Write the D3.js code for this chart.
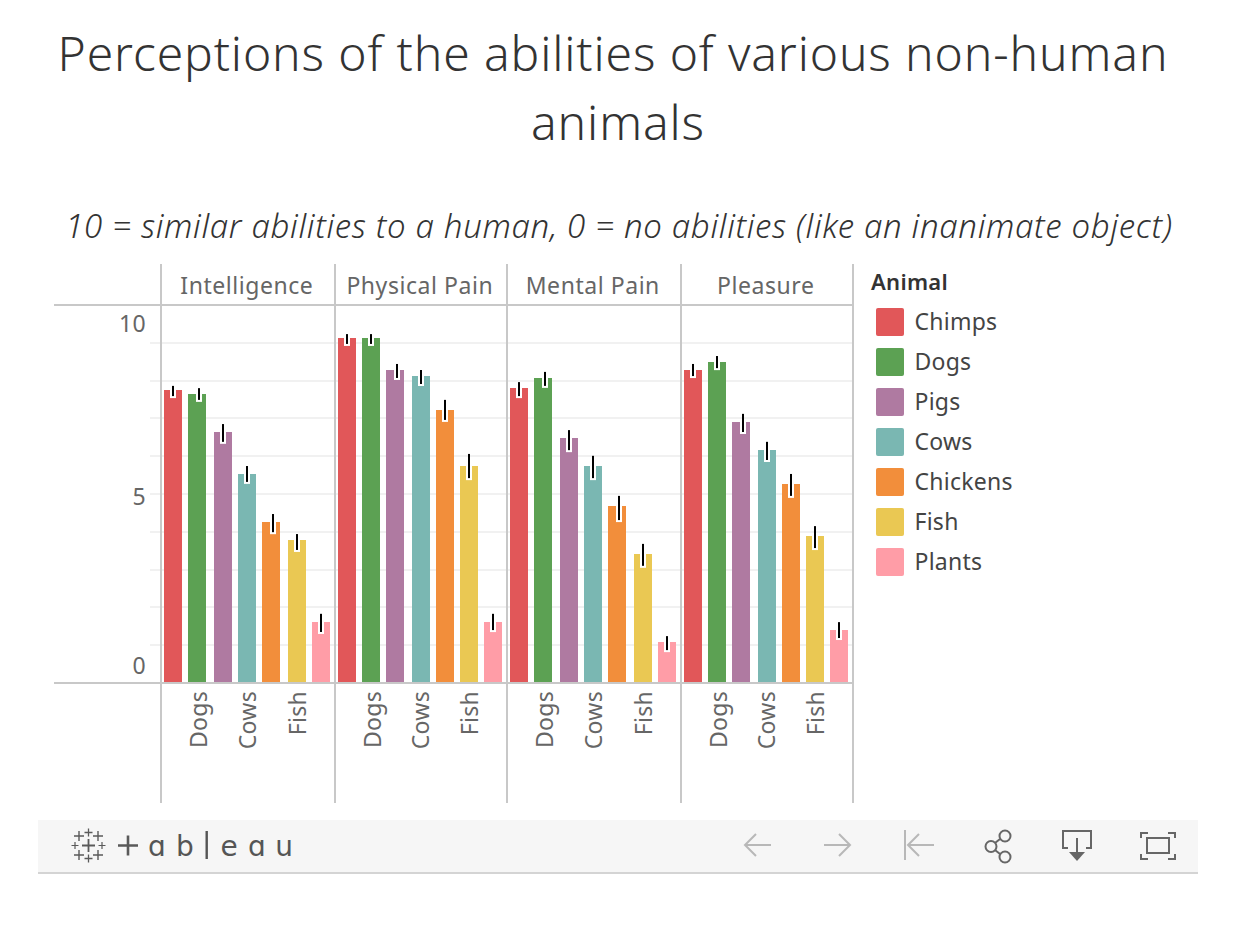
<!DOCTYPE html>
<html>
<head>
<meta charset="utf-8">
<script src="https://cdn.jsdelivr.net/npm/d3@7"></script>
<style>
  body { margin: 0; background: #fff; }
  text { font-family: "Noto Sans", sans-serif; }
  .title { font-weight: 300; font-size: 48px; fill: #333; letter-spacing: 0.87px; }
  .subtitle { font-weight: 300; font-style: italic; font-size: 33px; fill: #333; letter-spacing: 0.66px; }
  .header { font-size: 23px; fill: #666; letter-spacing: 0.55px; }
  .tick text { font-size: 23px; fill: #666; font-family: "Noto Sans", sans-serif; letter-spacing: 0.3px; }
  .legend-title { font-size: 22px; font-weight: 600; fill: #333; letter-spacing: 0.3px; }
  .legend-label { font-size: 23px; fill: #444; letter-spacing: 0.25px; }
</style>
</head>
<body>
<div id="chart"></div>
<script>
var animals = ["Chimps","Dogs","Pigs","Cows","Chickens","Fish","Plants"];
var animalColors = ["#e15759","#5ca153","#af7aa1","#7ab7b2","#f28e3b","#eac853","#ff9da7"];
var abilities = ["Intelligence","Physical Pain","Mental Pain","Pleasure"];
var labelledAnimals = ["Dogs","Cows","Fish"];
var yTicks = [0,5,10];
var gridValues = [1,2,3,4,5,6,7,8,9];

var intelligence = [7.75,7.65,6.64,5.53,4.26,3.78,1.61];
var intelligenceLow = [7.59,7.49,6.38,5.32,3.99,3.52,1.35];
var intelligenceHigh = [7.86,7.80,6.85,5.74,4.47,3.94,1.83];

var physicalPain = [9.13,9.13,8.28,8.12,7.22,5.74,1.61];
var physicalPainLow = [8.97,8.97,8.07,7.91,6.96,5.42,1.40];
var physicalPainHigh = [9.23,9.23,8.44,8.28,7.49,6.06,1.83];

var mentalPain = [7.80,8.07,6.48,5.74,4.68,3.41,1.08];
var mentalPainLow = [7.59,7.86,6.16,5.42,4.31,3.10,0.87];
var mentalPainHigh = [7.96,8.23,6.69,6.01,4.95,3.68,1.24];

var pleasure = [8.28,8.49,6.90,6.16,5.26,3.89,1.40];
var pleasureLow = [8.12,8.33,6.64,5.90,4.95,3.57,1.19];
var pleasureHigh = [8.44,8.65,7.12,6.38,5.53,4.15,1.61];

var means = [intelligence,physicalPain,mentalPain,pleasure];
var lows = [intelligenceLow,physicalPainLow,mentalPainLow,pleasureLow];
var highs = [intelligenceHigh,physicalPainHigh,mentalPainHigh,pleasureHigh];

var width = 1250, height = 932;
var svg = d3.select("#chart").append("svg")
    .attr("width", width)
    .attr("height", height)
    .style("display", "block");

// titles
svg.append("text").attr("class","title").attr("x",613).attr("y",71).attr("text-anchor","middle")
    .text("Perceptions of the abilities of various non-human");
svg.append("text").attr("class","title").attr("x",618).attr("y",140).attr("text-anchor","middle")
    .text("animals");
svg.append("text").attr("class","subtitle").attr("x",619).attr("y",238).attr("text-anchor","middle")
    .text("10 = similar abilities to a human, 0 = no abilities (like an inanimate object)");

// scales
var y = d3.scaleLinear().domain([0,10]).range([683,305]);
var panel = d3.scaleBand().domain(abilities).range([161,853]);
var color = d3.scaleOrdinal().domain(animals).range(animalColors);
var ruleColor = "#c8c8c8";

// tableau draws on a 2px grid, panel rules land on odd pixels
var snapOdd = function(v) { return Math.floor(v/2)*2 + 1; };
var snapEven = function(v) { return Math.floor(v/2)*2; };

// gridlines
svg.append("g").selectAll("rect")
    .data(gridValues)
    .enter().append("rect")
    .attr("x", 150)
    .attr("y", function(d) { return Math.round(y(d)) - 1; })
    .attr("width", 703)
    .attr("height", 2)
    .attr("fill", "#f1f1f1");

// y axis
var yAxis = svg.append("g")
    .attr("transform", "translate(146,0)")
    .call(d3.axisLeft(y).tickValues(yTicks).tickSize(0).tickPadding(0));
yAxis.select(".domain").remove();
yAxis.selectAll("text").attr("dy", function(d) {
  if (d == 10) return 18 + 8;
  if (d == 0) return -18 + 8;
  return 2 + 8;
});

abilities.forEach(function(ability, p) {
  var x0 = snapOdd(panel(ability));
  var x1 = snapOdd(panel(ability) + panel.bandwidth());
  var x = d3.scaleBand().domain(animals).range([x0 + 0.7, x1 - 0.7]);

  var rows = animals.map(function(a, i) {
    return {animal: a, mean: means[p][i], low: lows[p][i], high: highs[p][i]};
  });

  var g = svg.append("g").attr("class", "panel");

  g.selectAll(".bar")
      .data(rows)
      .enter().append("rect")
      .attr("class", "bar")
      .attr("x", function(d) { return snapEven(x(d.animal) + x.bandwidth()/2 - 9); })
      .attr("y", function(d) { return snapEven(y(d.mean) + 1); })
      .attr("width", 18)
      .attr("height", function(d) { return 682 - snapEven(y(d.mean) + 1); })
      .attr("fill", function(d) { return color(d.animal); });

  // error bars, white halo under a black line
  g.selectAll(".halo")
      .data(rows)
      .enter().append("rect")
      .attr("class", "halo")
      .attr("x", function(d) { return snapOdd(x(d.animal) + x.bandwidth()/2 - 0.5) - 3; })
      .attr("y", function(d) { return snapEven(y(d.mean) + 1); })
      .attr("width", 6)
      .attr("height", function(d) { return y(d.low) + 2 - snapEven(y(d.mean) + 1); })
      .attr("fill", "#fff");

  g.selectAll(".err")
      .data(rows)
      .enter().append("rect")
      .attr("class", "err")
      .attr("x", function(d) { return snapOdd(x(d.animal) + x.bandwidth()/2 - 0.5) - 1; })
      .attr("y", function(d) { return y(d.high); })
      .attr("width", 2)
      .attr("height", function(d) { return y(d.low) - y(d.high); })
      .attr("fill", "#000");

  // header
  g.append("text")
      .attr("class", "header")
      .attr("x", (x0 + x1)/2 - 1.2)
      .attr("y", 294)
      .attr("text-anchor", "middle")
      .text(ability);

  // x axis
  var xAxis = g.append("g")
      .attr("transform", "translate(0,683)")
      .call(d3.axisBottom(x).tickValues(labelledAnimals).tickSize(0).tickPadding(0));
  xAxis.select(".domain").remove();
  xAxis.selectAll("text")
      .attr("transform", "rotate(-90)")
      .attr("text-anchor", "end")
      .attr("x", -8)
      .attr("y", 0)
      .attr("dy", "0.36em");
});

// frame rules
var rules = svg.append("g");
panel.domain().forEach(function(ability) {
  rules.append("rect").attr("x", snapOdd(panel(ability)) - 1).attr("y", 264).attr("width", 2).attr("height", 539).attr("fill", ruleColor);
});
rules.append("rect").attr("x", 852).attr("y", 264).attr("width", 2).attr("height", 539).attr("fill", ruleColor);
rules.append("rect").attr("x", 54).attr("y", 304).attr("width", 800).attr("height", 2).attr("fill", ruleColor);
rules.append("rect").attr("x", 54).attr("y", 682).attr("width", 800).attr("height", 2).attr("fill", ruleColor);

// legend
var legendY = d3.scalePoint().domain(animals).range([322,562]);
svg.append("text").attr("class","legend-title").attr("x",871).attr("y",290).text("Animal");
var legend = svg.append("g").selectAll("g")
    .data(animals)
    .enter().append("g")
    .attr("transform", function(d) { return "translate(0," + legendY(d) + ")"; });
legend.append("rect")
    .attr("x", 876).attr("y", -14).attr("width", 28).attr("height", 28).attr("rx", 2)
    .attr("fill", function(d) { return color(d); });
legend.append("text")
    .attr("class", "legend-label")
    .attr("x", 914.5).attr("y", 8)
    .text(function(d) { return d; });

// toolbar
var bar = svg.append("g");
bar.append("rect").attr("x",38).attr("y",820).attr("width",1160).attr("height",52).attr("fill","#f6f6f6");
bar.append("rect").attr("x",38).attr("y",872).attr("width",1160).attr("height",2).attr("fill","#d4d4d4");

var plus = function(cx, cy, r, w) {
  bar.append("path")
      .attr("d", "M" + (cx-r) + " " + cy + "H" + (cx+r) + "M" + cx + " " + (cy-r) + "V" + (cy+r))
      .attr("stroke", "#5a5a5a").attr("stroke-width", w).attr("fill", "none");
};
plus(88.5,845.5,6.5,1.8);
plus(88.5,832.5,4,1.3); plus(88.5,858.5,4,1.3);
plus(75,845.5,3.5,1.2); plus(102,845.5,3.5,1.2);
plus(79,836,5,1.4); plus(98,836,5,1.4); plus(79,855,5,1.4); plus(98,855,5,1.4);
plus(128,845.5,10,2.6);

var logoLetters = [["\u0251",157],["b",185],["e",229],["\u0251",257],["u",284]];
logoLetters.forEach(function(l) {
  bar.append("text").attr("x", l[1]).attr("y", 856).attr("text-anchor", "middle")
      .style("font-family", "DejaVu Sans").style("font-size", "28px")
      .attr("fill", "#555").text(l[0]);
});
bar.append("rect").attr("x",205.5).attr("y",831).attr("width",2.4).attr("height",28).attr("fill","#555");

var icon = function(d, col, w) {
  bar.append("path").attr("d", d).attr("fill", "none").attr("stroke", col).attr("stroke-width", w || 2);
};
var dim = "#b8b8b8", dark = "#666";
icon("M771 845H745M756 834L745 845L756 856", dim);
icon("M824 845H850M839 834L850 845L839 856", dim);
icon("M905 830V860M934 845H908M919 834L908 845L919 856", dim);
icon("M1000 839L995 843M995 850L1000 854", dark);
bar.selectAll(".share").data([[1005,836],[991,846.5],[1005,857]]).enter().append("circle")
    .attr("cx", function(d) { return d[0]; }).attr("cy", function(d) { return d[1]; }).attr("r", 5.5)
    .attr("fill", "none").attr("stroke", dark).attr("stroke-width", 2);
icon("M1068 848H1063V831H1091V848H1086M1077 838V852", dark);
bar.append("path").attr("d", "M1069 852H1085L1077 861Z").attr("fill", dark);
icon("M1141 838V833H1148M1168 833H1175V838M1175 854V859H1168M1148 859H1141V854", dark);
bar.append("rect").attr("x",1147).attr("y",838).attr("width",22).attr("height",15).attr("fill","none").attr("stroke",dark).attr("stroke-width",2);
</script>
</body>
</html>
